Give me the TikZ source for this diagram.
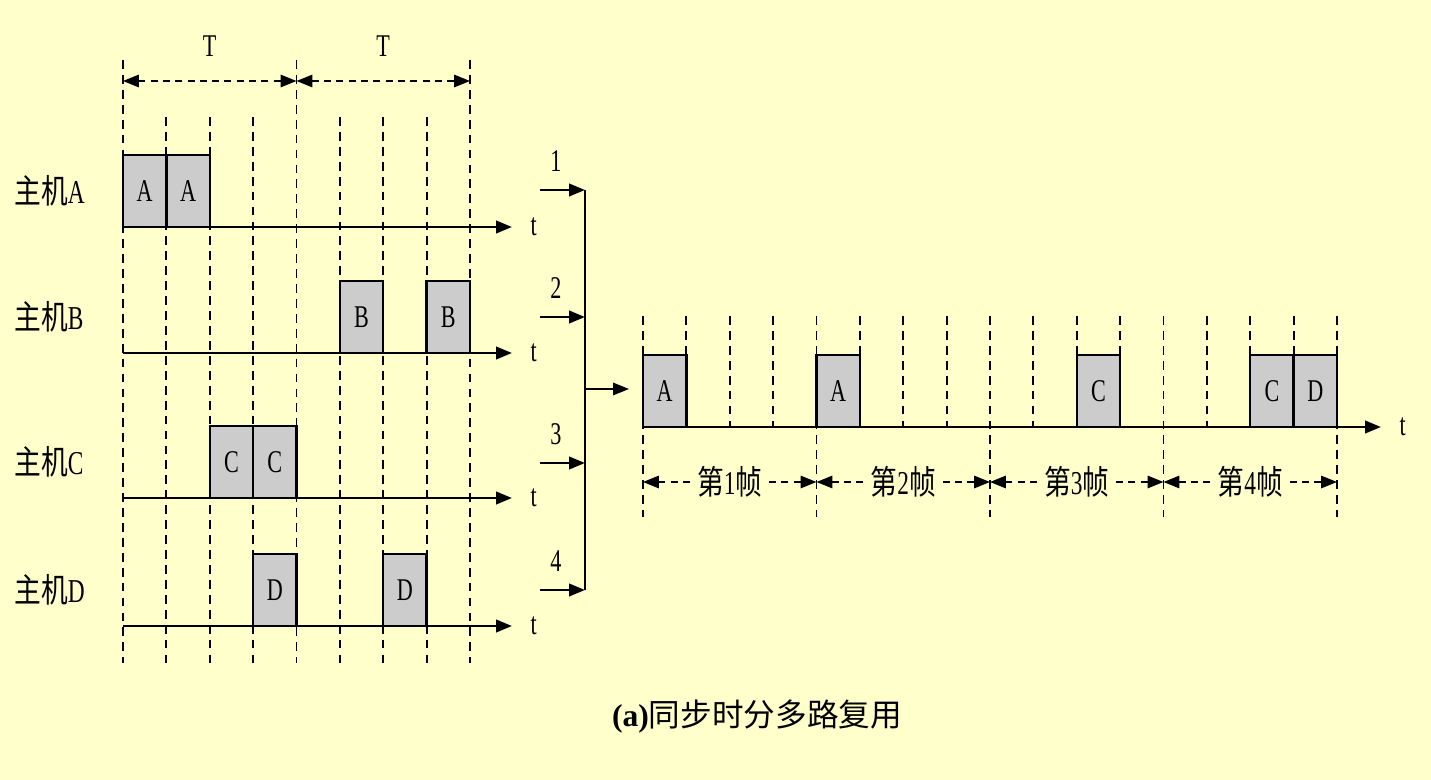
\documentclass[tikz,border=0pt]{standalone}
\usepackage{fontspec}
\setmainfont{Liberation Serif}[FakeStretch=0.7]
\newfontfamily\capfont{Liberation Serif}
\newfontfamily\cjk{Noto Sans CJK SC}[FakeStretch=0.8]
\newfontfamily\cjkcap{Noto Sans CJK SC}
\usetikzlibrary{arrows.meta,positioning,calc}
\definecolor{tdmPaper}{HTML}{FFFFCC}
\definecolor{tdmSlot}{HTML}{CCCCCC}

\begin{document}
\begin{tikzpicture}[
    x=0.02cm, y=-0.02cm,
    >={Triangle[length=9pt,width=7pt]},
    grid/.style={line width=1.1pt, dash pattern=on 5pt off 3.5pt},
    axis/.style={->, line width=1.5pt},
    span/.style={<->, line width=1.1pt, dash pattern=on 4pt off 3pt},
    slot/.style={draw, line width=1.3pt, fill=tdmSlot, anchor=south west,
                 minimum width=0.8675cm, minimum height=1.44cm, inner sep=0pt,
                 outer sep=0pt, font=\fontsize{18}{20}\selectfont},
    host/.style={font=\fontsize{19}{22}\selectfont, anchor=west, inner sep=0pt},
    lbl/.style={font=\fontsize{18}{20}\selectfont},
    frame/.style={font=\fontsize{19}{22}\selectfont, fill=tdmPaper, inner sep=4pt},
  ]

  % --- paper ---
  \fill[tdmPaper] (0,0) rectangle (1431,780);
  \useasboundingbox (0,0) rectangle (1431,780);

  % --- left: slot grid ---
  \foreach \i in {0,4,8}
    \draw[grid] ({123+43.375*\i},60) -- ({123+43.375*\i},663);
  \foreach \i in {1,2,3,5,6,7}
    \draw[grid] ({123+43.375*\i},117) -- ({123+43.375*\i},663);

  % --- period T ---
  \coordinate (p0) at (123,81);
  \coordinate (p1) at (296.5,81);
  \coordinate (p2) at (470,81);
  \draw[span] (p0) -- node[lbl, above=0.36cm] (T1) {T} (p1);
  \draw[span] (p1) -- node[lbl, above=0.36cm] (T2) {T} (p2);

  % --- hosts and their time axes ---
  \foreach \r/\y in {A/227,B/353,C/498,D/626} {
    \node[host] (host\r) at (14,\y-36) {{\cjk 主机}\r};
    \coordinate (o\r) at (123,\y);
    \coordinate (e\r) at (512,\y);
    \draw[axis] (o\r) -- (e\r);
    \node[lbl, right=0.25cm of e\r] (t\r) {t};
  }

  % --- slots in use ---
  \foreach \r/\s/\y in {A/0/227,A/1/227,B/5/353,B/7/353,
                        C/2/498,C/3/498,D/3/626,D/6/626}
    \node[slot] (s\r\s) at ({123+43.375*\s},\y) {\r};

  % --- multiplexer ---
  \foreach \k/\y in {1/190,2/317,3/463,4/590} {
    \coordinate (in\k) at (540,\y);
    \coordinate (mx\k) at (585,\y);
    \draw[->, line width=1.5pt] (in\k) -- (mx\k);
    \node[lbl] (n\k) at (556,\y-29) {\k};
  }
  \draw[line width=1pt] (mx1) -- (mx4);
  \coordinate (mxo) at (585,389);
  \coordinate (mxe) at (629,389);
  \draw[->, line width=1pt] (mxo) -- (mxe);

  % --- right: multiplexed line ---
  \foreach \i in {0,4,8,12,16}
    \draw[grid] ({643+43.375*\i},316) -- ({643+43.375*\i},517);
  \foreach \i in {1,2,3,5,6,7,9,10,11,13,14,15}
    \draw[grid] ({643+43.375*\i},316) -- ({643+43.375*\i},427);
  \coordinate (oM) at (643,427);
  \coordinate (eM) at (1381,427);
  \draw[axis] (oM) -- (eM);
  \node[lbl, right=0.25cm of eM] (tM) {t};

  \foreach \r/\s in {A/0,A/4,C/10,C/14,D/15}
    \node[slot] (m\r\s) at ({643+43.375*\s},427) {\r};

  % --- frames ---
  \foreach \f in {0,...,4}
    \coordinate (f\f) at ({643+173.5*\f},482);
  \foreach \f [evaluate=\f as \g using int(\f+1)] in {0,...,3}
    \draw[span] (f\f) -- node[frame] (fr\g) {{\cjk 第}\g{\cjk 帧}} (f\g);

  % --- caption ---
  \node[font=\fontsize{18}{20}\selectfont] (cap) at (757,717)
    {{\capfont\bfseries (a)}{\cjkcap 同步时分多路复用}};

\end{tikzpicture}
\end{document}
